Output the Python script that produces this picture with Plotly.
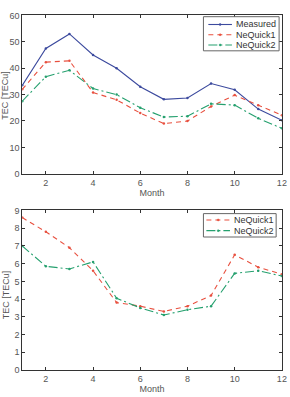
import plotly.graph_objects as go

months = [1, 2, 3, 4, 5, 6, 7, 8, 9, 10, 11, 12]
measured = [33.5, 47.5, 53.0, 45.0, 40.0, 33.0, 28.2, 28.7, 34.2, 31.8, 24.5, 20.3]
nq1_top = [32.0, 42.3, 42.8, 30.8, 28.0, 23.0, 19.0, 20.0, 25.5, 29.8, 26.0, 22.2]
nq2_top = [27.5, 36.8, 39.2, 32.3, 30.0, 25.0, 21.5, 21.8, 26.5, 26.0, 21.0, 17.2]
nq1_bot = [8.6, 7.8, 6.9, 5.6, 3.8, 3.6, 3.3, 3.6, 4.2, 6.5, 5.8, 5.4]
nq2_bot = [7.0, 5.85, 5.7, 6.1, 4.05, 3.5, 3.1, 3.4, 3.6, 5.45, 5.6, 5.3]
top_names = ["Measured", "NeQuick1", "NeQuick2"]
bot_names = ["NeQuick1", "NeQuick2"]

W, H = 290, 397
C_MEAS = "#3c4a9e"
C_NQ1 = "#e8503f"
C_NQ2 = "#25a06e"
DASH = {C_MEAS: "solid", C_NQ1: "5px,4px", C_NQ2: "9px,3px,2px,3px"}
FONT = dict(family="Liberation Sans, Arial", size=9, color="#555")
LFONT = dict(family="Liberation Sans, Arial", size=9, color="#333")

fig = go.Figure()


def add_series(y, name, color, xa, ya):
    fig.add_trace(go.Scatter(x=months, y=y, name=name, mode="lines+markers",
                             line=dict(color=color, width=1.1, dash=DASH[color]),
                             marker=dict(size=2.5, color=color),
                             xaxis=xa, yaxis=ya, showlegend=False))


add_series(measured, top_names[0], C_MEAS, "x", "y")
add_series(nq1_top, top_names[1], C_NQ1, "x", "y")
add_series(nq2_top, top_names[2], C_NQ2, "x", "y")
add_series(nq1_bot, bot_names[0], C_NQ1, "x2", "y2")
add_series(nq2_bot, bot_names[1], C_NQ2, "x2", "y2")

axis_common = dict(showgrid=False, zeroline=False, showline=True, mirror="allticks",
                   linecolor="#333", linewidth=1, ticks="inside", ticklen=3,
                   tickcolor="#333", tickfont=FONT, ticklabeloverflow="allow")

xdom = [0.078, 0.989]
fig.update_layout(
    width=W, height=H,
    margin=dict(l=0, r=0, t=0, b=0),
    paper_bgcolor="white", plot_bgcolor="white",
    font=FONT,
    xaxis=dict(domain=xdom, range=[1, 12], tickvals=[2, 4, 6, 8, 10, 12], anchor="y",
               title=dict(text="Month", font=FONT, standoff=1), **axis_common),
    yaxis=dict(domain=[0.564, 0.973], range=[0, 60], tickvals=[0, 10, 20, 30, 40, 50, 60], anchor="x",
               **axis_common),
    xaxis2=dict(domain=xdom, range=[1, 12], tickvals=[2, 4, 6, 8, 10, 12], anchor="y2",
                title=dict(text="Month", font=FONT, standoff=1), **axis_common),
    yaxis2=dict(domain=[0.057, 0.469], range=[0, 9], tickvals=list(range(10)), anchor="x2",
                **axis_common),
    showlegend=False,
)


def px(x):
    return x / W


def py(y):
    return 1 - y / H


def legend_box(x0, y0, x1, y1, rows, line_x0, line_x1, text_x):
    fig.add_shape(type="rect", xref="paper", yref="paper",
                  x0=px(x0), x1=px(x1), y0=py(y0), y1=py(y1),
                  line=dict(color="#666", width=1), fillcolor="white", layer="above")
    for name, color, yy in rows:
        fig.add_shape(type="line", xref="paper", yref="paper",
                      x0=px(line_x0), x1=px(line_x1), y0=py(yy), y1=py(yy),
                      line=dict(color=color, width=1.1, dash=DASH[color]), layer="above")
        fig.add_shape(type="circle", xref="paper", yref="paper",
                      x0=px((line_x0 + line_x1) / 2 - 1), x1=px((line_x0 + line_x1) / 2 + 1),
                      y0=py(yy - 1), y1=py(yy + 1),
                      line=dict(color=color, width=0.5), fillcolor=color, layer="above")
        fig.add_annotation(text=name, x=px(text_x), y=py(yy), xref="paper", yref="paper",
                           xanchor="left", yanchor="middle", showarrow=False, font=LFONT)


legend_box(207, 12, 284, 47,
           [(top_names[0], C_MEAS, 20), (top_names[1], C_NQ1, 30.5), (top_names[2], C_NQ2, 41)],
           212, 236, 238)
legend_box(207, 214, 281, 238,
           [(bot_names[0], C_NQ1, 220.5), (bot_names[1], C_NQ2, 231.5)],
           210, 234, 236)

fig.add_annotation(text="TEC [TECu]", x=5 / W, y=0.768, xref="paper", yref="paper",
                   xanchor="center", yanchor="middle",
                   textangle=-90, showarrow=False, font=FONT)
fig.add_annotation(text="TEC [TECu]", x=7 / W, y=0.252, xref="paper", yref="paper",
                   xanchor="center", yanchor="middle",
                   textangle=-90, showarrow=False, font=FONT)

fig.write_html("out.html")
